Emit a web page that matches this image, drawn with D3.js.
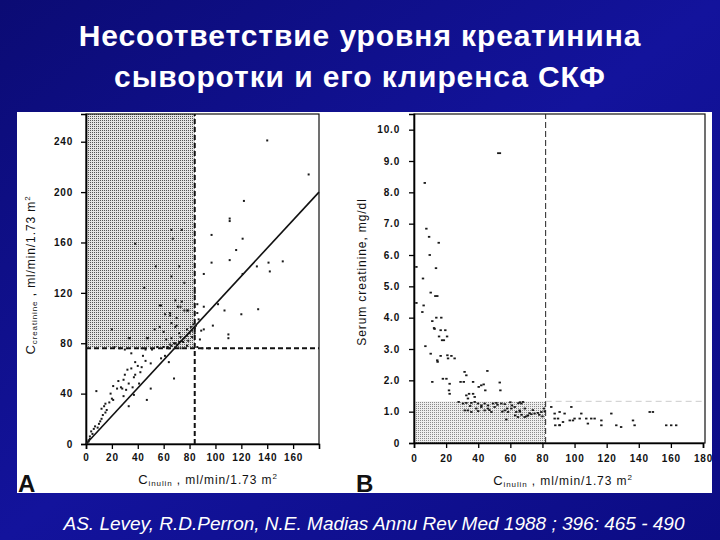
<!DOCTYPE html>
<html><head><meta charset="utf-8">
<script src="https://cdn.jsdelivr.net/npm/d3@7"></script>
<style>html,body{margin:0;padding:0;background:#0a0a80;}svg{display:block;}</style>
</head><body>
<script>
// ---------- DATA ----------
const titleLines = ["Несоответствие уровня креатинина", "сыворотки и его клиренса СКФ"];
const citation = "AS. Levey, R.D.Perron, N.E. Madias Annu Rev Med 1988 ; 396: 465 - 490";

// Panel A: C inulin (x) vs C creatinine (y), ml/min/1.73 m2
const aXTicks = [0, 20, 40, 60, 80, 100, 120, 140, 160];
const aYTicks = [0, 40, 80, 120, 160, 200, 240];
const aCutX = 84;   // vertical dashed line
const aCutY = 76;   // horizontal dashed line
const aFit = [[0, 0], [180, 200]];
const aPoints = [
 [38,159],[54,141],[72,141],[66,133],[74,170],[66,170],[67,163],[76,128],[45,124],[58,110],[61,103],[65,104],
 [69,114],[74,113],[76,106],[71,109],[79,106],[84,120],[70,100],[69,93],[57,93],[53,91],[47,84],[33,84],[20,91],
 [62,83],[66,84],[72,88],[78,91],[81,93],[75,81],[78,78],[57,110],[65,102],[66,96],[70,94],[60,89],[73,109],
 [78,106],[73,85],[69,80],[34,84],[48,84],
 [66,78],[68,80],[70,79],[72,81],[74,82],[76,84],[78,86],[80,88],[82,90],[84,92],[85,94],[63,77],[60,77],[65,79],
 [79,82],[82,85],[83,95],[84,88],
 [35,72],[46,75],[38,65],[50,64],[43,61],[35,60],[38,55],[37,53],[42,57],[29,51],[25,50],[21,46],[24,44],[28,44],
 [31,43],[33,48],[8,42],[20,36],[21,35],[29,38],[37,39],[15,32],[16,27],[13,23],[12,20],[10,16],[6,12],[4,10],[3,6],
 [2,3],[1,1],[50,44],[68,52],[58,68],[64,65],[47,35],[33,30],[64,76],[55,77],[22,77],[26,76],[73,76],[14,30],[15,25],
 [11,18],[7,14],[5,8],[3,4],[2,2],[9,13],[44,70],[40,62],[30,55],[27,45],[19,40],[18,33],[12,28],[36,45],[41,48],
 [32,59],[51,75],[43,76],[30,75],[46,66],[61,70],
 [140,241],[172,214],[122,193],[111,179],[111,177],[97,166],[121,163],[116,154],[97,144],[111,146],[141,144],
 [152,145],[132,141],[142,137],[121,135],[91,135],[133,107],[120,103],[107,106],[102,111],[91,109],[98,94],[89,90],
 [110,87],[110,84],[87,99],[86,104],[86,111],[88,83],[91,91],[86,77],[90,76],[95,76]
];

// Panel B: C inulin (x) vs serum creatinine (y), mg/dl
const bXTicks = [0, 20, 40, 60, 80, 100, 120, 140, 160, 180];
const bYTicks = [0, 1, 2, 3, 4, 5, 6, 7, 8, 9, 10];
const bCutX = 82;
const bCutY = 1.33;
const bPoints = [
 [53,9.25],[6.7,8.3],[7.7,6.84],[9.4,6.58],[15.4,6.39],[9.8,6.0],[1.5,5.62],[13.7,5.58],[5.6,5.25],[10.4,4.8],
 [13.3,4.69],[14.5,4.69],[1.5,4.47],[6,4.39],[5.2,4.18],[13.9,4.0],[17,4.0],[11.4,3.89],[12.5,3.67],[12.8,3.64],
 [16.6,3.6],[19.5,3.6],[15.6,3.4],[17.5,3.28],[18.6,3.28],[20.6,3.4],[7.1,3.09],[10.4,2.85],[14.5,2.64],[14.7,2.59],
 [16.6,2.78],[20.8,2.8],[23.3,2.78],[25.3,2.7],[21.2,2.7],[11.4,1.95],[18,2.05],[20.2,2.05],[22.2,1.89],[21.8,1.68],
 [22.2,1.57],[29,1.95],[31,1.95],[32.6,2.16],[31.5,2.27],[36.8,1.95],[34.3,1.57],[36.8,1.57],[32.6,1.52],[37.8,1.47],
 [33.6,1.42],[40.3,1.79],[41.9,1.84],[43.4,1.87],[44.4,1.68],[45.7,2.3],[53.4,1.93],[53.8,1.68],
 [27.8,1.31],[30.5,1.26],[32.6,1.28],[35.7,1.28],[37.8,1.31],[39.9,1.26],[44,1.26],[46.1,1.2],[49.2,1.26],[51.3,1.28],
 [54.4,1.26],[56.5,1.24],[31.6,1.04],[33.6,1.04],[35.7,0.99],[38.8,1.1],[41.9,1.15],[44,1.04],[46.1,1.1],[48.2,0.99],
 [50.2,1.15],[56.5,1.04],[58.6,0.99],[60.6,1.1],[62.7,1.15],[63.7,0.99],[65.8,1.04],[66.9,1.26],[67.9,1.31],[64.8,0.83],
 [57.5,0.75],[68.9,0.83],[71,0.88],[73.1,0.92],[75.1,0.94],[77.2,0.96],[79.3,0.99],[81.4,1.01],
 [42,1.2],[47,1.05],[52,1.22],[58,1.1],[61,1.2],[66,1.0],[69,1.1],[72,0.95],[63,0.88],[55,1.0],[35,1.18],[40,1.02],
 [60,1.3],[65,1.27],[67,0.9],[70,0.85],[74,1.05],[78,0.9],[80,0.85],[81,1.1],[66,1.3],
 [85.5,1.15],[87.6,0.94],[89.7,0.78],[90.7,0.57],
 [87.6,0.78],[90.7,0.99],[93.8,0.94],[92.8,0.67],[90.7,0.565],[88,0.565],[98,1.15],[97,0.72],[99,0.72],
 [100,0.78],[103.2,0.78],[104.2,0.94],[107.3,0.78],[108.3,0.62],[110.4,0.78],[112.5,0.78],[116.7,0.72],[116.7,0.565],
 [122.9,0.94],[126,0.565],[129,0.51],[136.4,0.72],[137.4,0.565],[146.8,0.99],[148.8,0.99],[157.1,0.565],[160.2,0.565],[163.3,0.565]
];

// ---------- DRAW ----------
const W = 720, H = 540;
const svg = d3.select("body").append("svg").attr("width", W).attr("height", H);
const defs = svg.append("defs");
const bg = defs.append("linearGradient").attr("id", "bg").attr("x1", "0").attr("y1", "0").attr("x2", "1").attr("y2", "1");
bg.append("stop").attr("offset", "0").attr("stop-color", "#0b0b74");
bg.append("stop").attr("offset", "0.5").attr("stop-color", "#13139c");
bg.append("stop").attr("offset", "1").attr("stop-color", "#0c0c84");
const pat = defs.append("pattern").attr("id", "dots").attr("width", 2).attr("height", 2).attr("patternUnits", "userSpaceOnUse");
pat.append("rect").attr("width", 2).attr("height", 2).attr("fill", "#e4e4e4");
pat.append("rect").attr("width", 1).attr("height", 1).attr("fill", "#555");
const pat2 = defs.append("pattern").attr("id", "dots2").attr("width", 2).attr("height", 2).attr("patternUnits", "userSpaceOnUse");
pat2.append("rect").attr("width", 2).attr("height", 2).attr("fill", "#eeeeee");
pat2.append("rect").attr("width", 1).attr("height", 1).attr("fill", "#8a8a8a");

svg.append("rect").attr("width", W).attr("height", H).attr("fill", "url(#bg)");

const font = "'Liberation Sans', Arial, sans-serif";

// Title
svg.selectAll("text.title").data(titleLines).join("text")
  .attr("x", 360).attr("y", (d, i) => 46 + i * 41)
  .attr("text-anchor", "middle").attr("fill", "#fff")
  .style("font-family", font).style("font-weight", "bold").style("font-size", "30px").style("letter-spacing", "0.9px")
  .text(d => d);

// white panel
svg.append("rect").attr("x", 17).attr("y", 112).attr("width", 695).attr("height", 381).attr("fill", "#fff");

function drawAxisLabel(g, x, y, sub, rest, rotate, sup) {
  const t = g.append("text").attr("transform", `translate(${x},${y})` + (rotate ? " rotate(-90)" : ""))
    .attr("text-anchor", "middle").style("font-family", font).style("font-size", "12px")
    .style("letter-spacing", "0.9px").attr("fill", "#111");
  if (sub) {
    t.append("tspan").style("font-size", "13px").text("C");
    t.append("tspan").attr("dy", 2).style("font-size", "8px").text(sub);
    t.append("tspan").attr("dy", -2).text(rest);
  } else {
    t.append("tspan").text(rest);
  }
  if (sup) t.append("tspan").attr("dy", -5).style("font-size", "8px").text(sup);
  return t;
}

function styleTicks(g) {
  g.selectAll(".tick text").style("font-family", font).style("font-weight", "bold")
    .style("font-size", "10px").style("letter-spacing", "0.8px").attr("fill", "#111");
  g.selectAll(".tick line").attr("stroke-width", 1.3);
}

// ---------- Panel A ----------
const ax = d3.scaleLinear().domain([0, 180]).range([86, 319]);
const ay = d3.scaleLinear().domain([0, 262]).range([444, 114]);
const gA = svg.append("g");
gA.append("rect").attr("x", ax(0)).attr("y", ay(262)).attr("width", ax(aCutX) - ax(0)).attr("height", ay(aCutY) - ay(262)).attr("fill", "url(#dots)");
gA.append("rect").attr("x", ax(0)).attr("y", ay(262)).attr("width", ax(180) - ax(0)).attr("height", ay(0) - ay(262))
  .attr("fill", "none").attr("stroke", "#111").attr("stroke-width", 1.2);
gA.append("g").attr("transform", `translate(0,${ay(0)})`)
  .call(d3.axisBottom(ax).tickValues(aXTicks).tickSize(5).tickPadding(5))
  .call(g => g.select(".domain").attr("stroke-width", 1.6));
gA.append("g").attr("transform", `translate(${ax(0)},0)`)
  .call(d3.axisLeft(ay).tickValues(aYTicks).tickSize(5).tickPadding(8))
  .call(g => g.select(".domain").attr("stroke-width", 1.6));
styleTicks(gA);
gA.append("line").attr("x1", ax(aCutX)).attr("x2", ax(aCutX)).attr("y1", ay(0)).attr("y2", ay(262))
  .attr("stroke", "#111").attr("stroke-width", 2).attr("stroke-dasharray", "5,3");
gA.append("line").attr("x1", ax(0)).attr("x2", ax(180)).attr("y1", ay(aCutY)).attr("y2", ay(aCutY))
  .attr("stroke", "#111").attr("stroke-width", 2).attr("stroke-dasharray", "5,3");
gA.append("path").datum(aFit).attr("d", d3.line().x(d => ax(d[0])).y(d => ay(d[1])))
  .attr("stroke", "#111").attr("stroke-width", 1.6).attr("fill", "none");
gA.selectAll("rect.pt").data(aPoints).join("rect").attr("class", "pt")
  .attr("x", d => ax(d[0]) - 1).attr("y", d => ay(d[1]) - 1).attr("width", 2).attr("height", 2).attr("fill", "#1a1a1a");
drawAxisLabel(svg, 208, 484, "inulin", " , ml/min/1.73 m", false, "2");
drawAxisLabel(svg, 35, 275, "creatinine", " , ml/min/1.73 m", true, "2");

// ---------- Panel B ----------
const bx = d3.scaleLinear().domain([0, 180]).range([414, 703]);
const by = d3.scaleLinear().domain([0, 10.5]).range([443, 114]);
const gB = svg.append("g");
gB.append("rect").attr("x", bx(0)).attr("y", by(bCutY)).attr("width", bx(bCutX) - bx(0)).attr("height", by(0) - by(bCutY)).attr("fill", "url(#dots2)");
gB.append("rect").attr("x", bx(0)).attr("y", by(10.5)).attr("width", bx(180) + 2 - bx(0)).attr("height", by(0) - by(10.5))
  .attr("fill", "none").attr("stroke", "#111").attr("stroke-width", 1.2);
gB.append("g").attr("transform", `translate(0,${by(0)})`)
  .call(d3.axisBottom(bx).tickValues(bXTicks).tickSize(5).tickPadding(7))
  .call(g => g.select(".domain").attr("stroke-width", 1.6));
gB.append("g").attr("transform", `translate(${bx(0)},0)`)
  .call(d3.axisLeft(by).tickValues(bYTicks).tickSize(5).tickPadding(9).tickFormat(d => d === 0 ? "0" : d3.format(".1f")(d)))
  .call(g => g.select(".domain").attr("stroke-width", 1.6));
styleTicks(gB);
gB.append("line").attr("x1", bx(bCutX)).attr("x2", bx(bCutX)).attr("y1", by(0)).attr("y2", by(10.5))
  .attr("stroke", "#222").attr("stroke-width", 1).attr("stroke-dasharray", "6,3");
gB.append("line").attr("x1", bx(bCutX)).attr("x2", bx(180)).attr("y1", by(bCutY)).attr("y2", by(bCutY))
  .attr("stroke", "#ccc").attr("stroke-width", 1).attr("stroke-dasharray", "6,4");
gB.selectAll("rect.pt").data(bPoints).join("rect").attr("class", "pt")
  .attr("x", (d, i) => bx(d[0]) - (i === 0 ? 2 : 1.2)).attr("y", d => by(d[1]) - 0.9)
  .attr("width", (d, i) => i === 0 ? 4 : 2.4).attr("height", 1.8).attr("fill", "#1a1a1a");
drawAxisLabel(svg, 563, 485, "inulin", " , ml/min/1.73 m", false, "2");
drawAxisLabel(svg, 366, 272, null, "Serum creatinine, mg/dl", true, null);

// Panel letters
svg.append("text").attr("x", 18).attr("y", 492).style("font-family", font).style("font-weight", "bold").style("font-size", "24px").attr("fill", "#111").text("A");
svg.append("text").attr("x", 356).attr("y", 492).style("font-family", font).style("font-weight", "bold").style("font-size", "24px").attr("fill", "#111").text("B");

// Citation
svg.append("text").attr("x", 374).attr("y", 530).attr("text-anchor", "middle").attr("fill", "#fff")
  .style("font-family", font).style("font-style", "italic").style("font-size", "19px").text(citation);
</script>
</body></html>
